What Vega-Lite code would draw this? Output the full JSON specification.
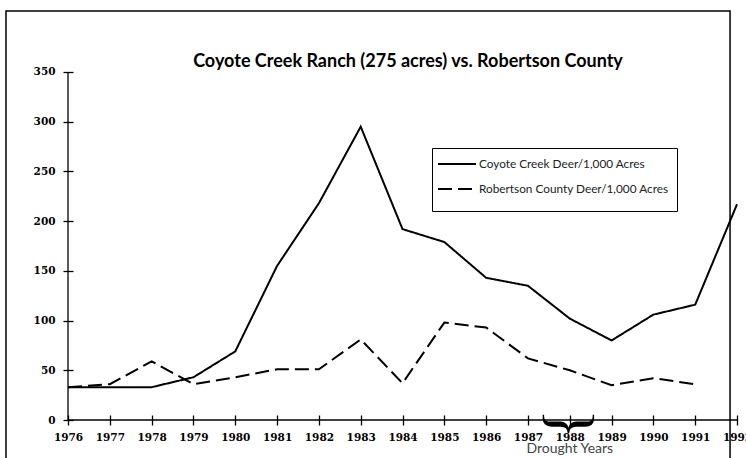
{
  "$schema": "https://vega.github.io/schema/vega-lite/v6.json",
  "width": 744,
  "height": 460,
  "autosize": {"type": "none"},
  "padding": {"left": 6, "top": 11, "right": 0, "bottom": 0},
  "background": "white",
  "title": {
    "text": "Coyote Creek Ranch (275 acres) vs. Robertson County",
    "font": "Lato",
    "fontSize": 18,
    "fontWeight": "bold",
    "color": "black",
    "anchor": "middle",
    "offset": -61,
    "dx": 30
  },
  "config": {
    "view": {"stroke": null},
    "axis": {
      "labelFont": "DejaVu Serif",
      "labelFontWeight": "bold",
      "labelFontSize": 10.5,
      "labelColor": "black",
      "tickColor": "black",
      "tickWidth": 1.3,
      "tickSize": 10,
      "domain": false,
      "grid": false,
      "labelOverlap": false,
      "title": null
    }
  },
  "layer": [
    {
      "data": {"values": [{}]},
      "mark": {"type": "rect", "filled": false, "color": "black", "strokeWidth": 1.5, "clip": false},
      "encoding": {
        "x": {"datum": 1974.517},
        "x2": {"datum": 1991.833},
        "y": {"datum": 411.35},
        "y2": {"datum": -51.29}
      }
    },
    {
      "data": {"values": [
        {"year": 1976, "series": "Coyote Creek Deer/1,000 Acres", "value": 33},
        {"year": 1977, "series": "Coyote Creek Deer/1,000 Acres", "value": 33},
        {"year": 1978, "series": "Coyote Creek Deer/1,000 Acres", "value": 33},
        {"year": 1979, "series": "Coyote Creek Deer/1,000 Acres", "value": 43},
        {"year": 1980, "series": "Coyote Creek Deer/1,000 Acres", "value": 69},
        {"year": 1981, "series": "Coyote Creek Deer/1,000 Acres", "value": 155},
        {"year": 1982, "series": "Coyote Creek Deer/1,000 Acres", "value": 218},
        {"year": 1983, "series": "Coyote Creek Deer/1,000 Acres", "value": 295},
        {"year": 1984, "series": "Coyote Creek Deer/1,000 Acres", "value": 192},
        {"year": 1985, "series": "Coyote Creek Deer/1,000 Acres", "value": 179},
        {"year": 1986, "series": "Coyote Creek Deer/1,000 Acres", "value": 143},
        {"year": 1987, "series": "Coyote Creek Deer/1,000 Acres", "value": 135},
        {"year": 1988, "series": "Coyote Creek Deer/1,000 Acres", "value": 102},
        {"year": 1989, "series": "Coyote Creek Deer/1,000 Acres", "value": 80},
        {"year": 1990, "series": "Coyote Creek Deer/1,000 Acres", "value": 106},
        {"year": 1991, "series": "Coyote Creek Deer/1,000 Acres", "value": 116},
        {"year": 1992, "series": "Coyote Creek Deer/1,000 Acres", "value": 217},
        {"year": 1976, "series": "Robertson County Deer/1,000 Acres", "value": 33},
        {"year": 1977, "series": "Robertson County Deer/1,000 Acres", "value": 36},
        {"year": 1978, "series": "Robertson County Deer/1,000 Acres", "value": 59},
        {"year": 1979, "series": "Robertson County Deer/1,000 Acres", "value": 36},
        {"year": 1980, "series": "Robertson County Deer/1,000 Acres", "value": 43},
        {"year": 1981, "series": "Robertson County Deer/1,000 Acres", "value": 51},
        {"year": 1982, "series": "Robertson County Deer/1,000 Acres", "value": 51},
        {"year": 1983, "series": "Robertson County Deer/1,000 Acres", "value": 81},
        {"year": 1984, "series": "Robertson County Deer/1,000 Acres", "value": 37},
        {"year": 1985, "series": "Robertson County Deer/1,000 Acres", "value": 98},
        {"year": 1986, "series": "Robertson County Deer/1,000 Acres", "value": 93},
        {"year": 1987, "series": "Robertson County Deer/1,000 Acres", "value": 62},
        {"year": 1988, "series": "Robertson County Deer/1,000 Acres", "value": 50},
        {"year": 1989, "series": "Robertson County Deer/1,000 Acres", "value": 35},
        {"year": 1990, "series": "Robertson County Deer/1,000 Acres", "value": 42},
        {"year": 1991, "series": "Robertson County Deer/1,000 Acres", "value": 36}
      ]},
      "mark": {"type": "line", "strokeWidth": 2, "color": "black", "clip": false},
      "encoding": {
        "x": {
          "field": "year",
          "type": "quantitative",
          "scale": {"domain": [1974.517, 1992.31], "nice": false, "zero": false},
          "axis": {
            "values": [1976, 1977, 1978, 1979, 1980, 1981, 1982, 1983, 1984, 1985, 1986, 1987, 1988, 1989, 1990, 1991, 1992],
            "format": "d",
            "offset": -56,
            "labelPadding": 7
          }
        },
        "y": {
          "field": "value",
          "type": "quantitative",
          "scale": {"domain": [-51.29, 411.35], "nice": false, "zero": false},
          "axis": {
            "values": [0, 50, 100, 150, 200, 250, 300, 350],
            "offset": -67,
            "labelPadding": 8
          }
        },
        "strokeDash": {
          "field": "series",
          "type": "nominal",
          "scale": {
            "domain": ["Coyote Creek Deer/1,000 Acres", "Robertson County Deer/1,000 Acres"],
            "range": [[1, 0], [14, 6]]
          },
          "legend": {
            "orient": "none",
            "legendX": 426,
            "legendY": 137,
            "title": " ",
            "titleOrient": "bottom",
            "titleFontSize": 6,
            "titlePadding": 1,
            "padding": 8,
            "rowPadding": 10,
            "strokeColor": "black",
            "fillColor": "white",
            "labelFont": "Lato",
            "labelFontSize": 11.8,
            "labelLimit": 0,
            "labelColor": "#222",
            "symbolType": "M-2.714,0H2.714",
            "symbolSize": 196,
            "symbolStrokeWidth": 2,
            "symbolStrokeColor": "black",
            "symbolOffset": 9,
            "labelOffset": 14
          }
        }
      }
    },
    {
      "data": {"values": [{}]},
      "mark": {"type": "rule", "color": "black", "strokeWidth": 1.3},
      "encoding": {"x": {"datum": 1976}, "y": {"datum": 0}, "y2": {"datum": 350}}
    },
    {
      "data": {"values": [{}]},
      "mark": {"type": "rule", "color": "black", "strokeWidth": 1.3, "clip": false},
      "encoding": {"y": {"datum": 0}, "x": {"datum": 1976}, "x2": {"datum": 1992}}
    },
    {
      "data": {"values": [{"year": 1988, "value": -4, "label": "}"}]},
      "mark": {"type": "text", "angle": 90, "font": "Liberation Serif", "fontSize": 62, "align": "center", "baseline": "middle", "color": "black"},
      "encoding": {
        "x": {"field": "year", "type": "quantitative"},
        "y": {"field": "value", "type": "quantitative"},
        "text": {"field": "label"}
      }
    },
    {
      "data": {"values": [{"year": 1988, "value": -29.2, "label": "Drought Years"}]},
      "mark": {"type": "text", "font": "Lato", "fontSize": 14, "align": "center", "baseline": "middle", "color": "#444"},
      "encoding": {
        "x": {"field": "year", "type": "quantitative"},
        "y": {"field": "value", "type": "quantitative"},
        "text": {"field": "label"}
      }
    }
  ]
}
